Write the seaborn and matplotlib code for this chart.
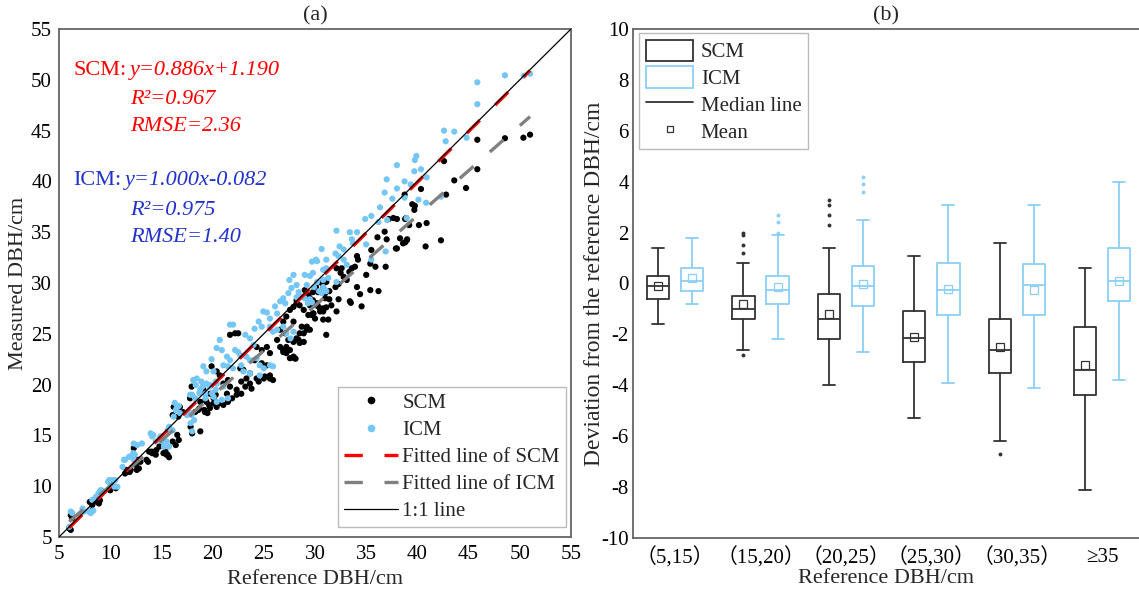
import numpy as np
import pandas as pd
import matplotlib
matplotlib.use("Agg")
import matplotlib.pyplot as plt
from matplotlib.patches import Patch
from matplotlib.lines import Line2D
import seaborn as sns

# ---------------- data: panel (a) ----------------
scm_ref = [45.85, 48.55, 50.35, 51.0, 42.6, 45.85, 43.6, 44.75, 40.35, 42.8, 38.75, 39.5, 39.75, 38.8, 39.2, 40.15, 40.9, 42.3, 40.8,
           38.0, 38.8, 38.95, 39.7, 37.2, 37.65, 38.0, 38.9, 36.8, 36.1, 37.0, 38.3, 39.0, 38.6, 37.9, 35.5, 36.9, 35.9, 35.4, 35.0,
           34.1, 34.2, 33.6, 33.9, 33.35, 32.1, 32.5, 32.6, 32.8, 33.1, 34.1, 34.4, 33.4, 35.4, 36.2, 34.55, 32.3, 32.0, 31.1, 30.8,
           31.4, 30.1, 29.8, 31.0, 31.4, 32.3, 31.6, 32.1, 31.1, 30.8, 29.5, 29.9, 30.3, 28.9, 29.35, 29.85, 27.9, 28.2,
           33.5, 31.3, 29.8, 30.5, 30.8, 29.2, 29.5, 28.5, 28.2, 27.9, 28.5, 27.2, 27.55, 26.9, 27.9, 28.1,
           30.65, 30.3, 31.0, 29.0, 29.35, 29.8, 30.2, 29.5, 30.5, 28.2, 28.5, 29.7, 30.0, 30.8, 31.1, 27.55, 27.2, 26.9, 27.9,
           28.7, 28.9, 29.2, 28.4, 28.9, 26.6, 27.1, 27.4, 26.3, 26.6, 26.9, 27.2, 27.9, 27.55, 28.0, 21.7, 22.2, 22.5,
           24.3, 24.8, 25.3, 25.6, 24.1, 24.8, 25.3, 25.6, 25.6, 25.9, 25.0, 22.7, 23.0, 23.65, 23.3, 24.3, 24.5, 25.1, 22.8,
           23.65, 23.2, 23.8, 22.35, 19.9, 20.4, 20.7, 21.5, 21.05, 21.7, 21.4, 22.35, 22.8, 21.9, 21.5, 20.55, 21.05, 20.4,
           20.7, 19.1, 19.75, 20.1, 19.4, 18.8, 19.75, 19.25, 18.6, 18.3, 17.95, 17.8, 16.8, 17.1, 16.65,
           19.3, 19.65, 20.1, 20.3, 18.7, 19.2, 19.5, 16.2, 16.1, 17.85, 18.0, 18.8, 16.55, 16.7, 16.1, 16.4, 14.8, 15.4,
           15.6, 15.75, 13.8, 14.1, 14.45, 12.3, 12.5, 12.8, 12.95, 12.0, 11.9, 12.6, 10.55, 8.6, 8.9, 8.25, 8.0, 6.15,
           6.3, 6.0, 6.15, 8.2, 9.0, 10.0, 11.45, 11.6, 12.75, 13.55, 13.7, 14.05, 14.5, 15.2, 15.5]
scm_meas = [44.1, 44.25, 44.3, 44.6, 42.0, 41.2, 40.1, 39.35, 39.25, 38.7, 38.7, 37.75, 37.6, 36.3, 35.7, 35.7, 35.9, 34.2, 33.6,
            33.4, 34.0, 34.2, 37.2, 36.3, 36.4, 36.3, 36.4, 35.05, 34.5, 34.3, 34.4, 34.3, 33.9, 33.4, 33.25, 31.6, 31.6, 31.9, 30.8,
            32.65, 32.3, 31.45, 31.6, 31.1, 31.45, 31.0, 31.45, 30.6, 30.3, 29.6, 28.9, 28.2, 29.3, 29.2, 27.7, 29.9, 29.6, 30.1, 29.6,
            29.2, 29.6, 29.1, 28.5, 28.4, 28.4, 27.8, 27.2, 27.6, 27.2, 28.5, 28.1, 27.7, 27.35, 26.85, 27.0, 27.65, 28.0,
            28.05, 26.4, 27.0, 27.2, 27.5, 25.7, 25.4, 25.05, 24.55, 24.2, 24.1, 23.7, 23.4, 23.2, 22.65, 22.55,
            30.0, 29.1, 29.0, 29.3, 28.8, 28.3, 28.0, 27.8, 27.5, 28.3, 27.8, 26.85, 26.5, 26.4, 24.9, 27.35, 26.7, 26.2, 26.2,
            25.7, 25.05, 25.4, 24.4, 24.2, 25.4, 25.05, 24.4, 24.4, 23.7, 23.4, 23.1, 22.75, 22.6, 22.6, 24.9, 25.05, 25.05,
            23.7, 23.4, 23.7, 23.1, 22.4, 22.1, 21.9, 20.9, 20.6, 20.45, 20.6, 21.6, 21.45, 21.1, 20.6, 20.6, 20.3, 20.8, 20.3,
            20.1, 19.8, 19.6, 19.5, 21.8, 21.3, 20.9, 20.45, 20.1, 19.8, 19.1, 19.0, 19.1, 18.65, 18.3, 18.15, 18.0, 17.8,
            18.2, 19.5, 19.1, 18.65, 18.3, 18.3, 17.7, 17.3, 17.5, 17.3, 19.8, 18.65, 17.8, 17.3, 16.85,
            18.5, 18.0, 18.15, 19.0, 17.65, 17.5, 17.2, 17.8, 17.0, 15.85, 15.2, 15.4, 15.05, 14.55, 14.4, 14.05, 13.9, 13.4,
            13.1, 12.85, 13.4, 13.25, 13.1, 13.75, 12.1, 11.75, 12.4, 11.6, 11.4, 11.6, 9.8, 8.5, 8.3, 8.15, 8.45, 7.15,
            6.85, 5.85, 5.7, 7.55, 8.6, 9.6, 11.25, 11.6, 12.6, 12.6, 12.4, 13.4, 13.55, 13.25, 13.1]

icm_ref = [48.55, 50.4, 51.0, 45.85, 45.85, 42.6, 43.6, 42.76, 44.8, 39.9, 39.75, 39.7, 40.35, 40.9, 38.75, 39.35, 38.75, 40.1,
           40.85, 42.3, 38.95, 38.0, 37.0, 38.0, 36.8, 36.35, 37.55, 35.5, 34.9, 36.2, 37.05, 32.1, 33.4, 34.1, 33.6, 33.7, 35.0,
           30.65, 32.4, 32.8, 36.9, 35.5, 32.0, 32.3, 29.7, 30.1, 32.8, 33.1, 30.8, 31.1, 29.0, 29.5, 27.9, 27.7, 28.2, 30.8,
           31.3, 29.9, 30.4, 32.1, 30.65, 31.1, 29.0, 29.5, 28.2, 29.3, 29.7,
           30.2, 31.1, 27.5, 29.8, 29.2, 30.2, 30.8, 28.4, 28.7, 26.9, 27.1, 26.6, 27.4, 26.1, 26.3, 24.95, 25.3, 25.6, 24.5,
           24.8, 24.1, 21.7, 22.0, 25.6, 25.9, 26.3, 26.9, 27.2, 27.6, 27.9, 23.2, 23.65, 24.0, 20.7, 20.4, 20.9, 22.2, 22.5,
           22.7, 23.3, 23.65, 24.3, 24.6, 25.0, 25.6, 25.9, 19.9, 21.4, 21.7, 21.05, 21.5, 22.0, 22.8, 19.1, 19.4, 20.1, 23.0,
           23.65, 24.6, 18.45, 18.1, 18.9, 19.4, 19.7, 20.4, 21.05, 18.8, 19.3, 20.1, 20.4, 20.9, 21.5, 17.8, 18.3, 16.3, 16.5,
           16.8, 17.5, 17.95, 16.2,
           18.35, 19.0, 19.8, 20.3, 18.0, 18.7, 19.3, 19.95, 20.3, 16.7, 16.4, 17.85, 18.2, 17.85, 18.0, 15.75, 16.1, 15.6,
           13.95, 14.1, 14.8, 15.1, 14.45, 15.25, 15.75, 12.3, 12.65, 13.1, 11.85, 12.3, 11.35, 11.2, 9.9, 10.2, 10.4, 10.7,
           10.05, 9.05, 8.6, 8.25, 7.3, 7.45, 7.95, 8.1, 6.3, 6.15, 6.0,
           8.35, 9.0, 9.15, 8.85, 9.8, 10.5, 10.3, 11.45, 11.9, 12.25, 12.4, 14.2, 14.9, 15.5]
icm_meas = [50.44, 50.4, 50.6, 49.75, 47.6, 45.0, 44.9, 43.95, 44.3, 42.5, 42.1, 41.0, 41.2, 40.4, 40.0, 39.7, 38.4, 38.2,
            37.9, 38.5, 36.4, 41.6, 40.2, 39.3, 38.9, 37.45, 38.3, 36.6, 36.3, 36.0, 36.2, 35.15, 35.0, 35.0, 34.3, 33.9, 33.8,
            33.35, 33.6, 33.3, 33.1, 32.3, 32.9, 32.65, 32.1, 32.3, 32.3, 31.8, 31.3, 31.45, 30.8, 30.7, 30.8, 29.5, 29.8, 30.3,
            30.5, 29.6, 29.2, 30.1, 29.0, 29.2, 28.5, 28.4, 28.6, 28.0, 28.1,
            32.15, 32.3, 30.3, 31.0, 29.8, 30.1, 29.6, 29.1, 28.65, 28.5, 28.0, 28.2, 29.0, 27.7, 27.0, 27.2, 27.1, 26.5, 26.2,
            25.7, 25.5, 25.9, 25.9, 25.7, 25.2, 25.4, 25.7, 25.05, 24.55, 25.2, 24.9, 24.55, 23.9, 24.4, 23.6, 23.4, 23.4, 23.2,
            22.9, 22.75, 22.4, 22.6, 21.9, 21.6, 21.9, 21.8, 22.5, 22.75, 22.4, 21.9, 21.8, 21.6, 21.9, 21.8, 21.3, 21.3, 21.3,
            21.1, 20.9, 20.6, 20.45, 20.3, 20.1, 19.8, 20.1, 19.8, 19.5, 19.1, 18.8, 18.3, 18.5, 18.65, 19.0, 18.65, 18.2, 17.7,
            17.2, 17.0, 17.0, 16.85,
            19.95, 19.8, 19.95, 20.3, 19.0, 19.15, 18.65, 19.15, 19.5, 17.9, 17.5, 17.2, 16.5, 16.2, 15.4, 15.85, 15.5, 15.5,
            15.2, 14.9, 14.7, 14.4, 14.4, 13.9, 13.9, 14.2, 14.05, 14.2, 12.9, 12.6, 12.6, 11.9, 10.6, 10.6, 9.95, 9.95,
            10.1, 9.6, 8.95, 8.65, 7.8, 7.5, 7.5, 7.35, 7.35, 7.5, 6.0,
            7.6, 9.45, 9.6, 9.3, 10.45, 10.6, 10.1, 12.6, 12.9, 13.25, 13.1, 15.05, 14.9, 14.4]

fit_labels = ["Fitted line of SCM", "Fitted line of ICM"]
fit_slopes = [1.000, 0.886]
fit_intercepts = [-0.082, 1.190]
fit_x_range = [6.0, 51.0]

# ---------------- data: panel (b) ----------------
classes = ["（5,15）", "（15,20）", "（20,25）", "（25,30）", "（30,35）", "≥35"]
scm_whislo = [-1.6, -2.6, -4.0, -5.3, -6.2, -8.1]
scm_q1 = [-0.6, -1.4, -2.2, -3.1, -3.5, -4.4]
scm_med = [-0.1, -1.0, -1.4, -2.15, -2.6, -3.4]
scm_q3 = [0.3, -0.5, -0.4, -1.1, -1.4, -1.7]
scm_whishi = [1.4, 0.8, 1.4, 1.1, 1.6, 0.6]
scm_mean = [-0.1, -0.8, -1.2, -2.1, -2.5, -3.2]
scm_fliers = [[], [2.0, 1.9, 1.5, 1.2, -2.8], [3.3, 3.1, 2.7, 2.3], [], [-6.7], []]

icm_whislo = [-0.8, -2.2, -2.7, -3.9, -4.1, -3.8]
icm_q1 = [-0.3, -0.8, -0.9, -1.25, -1.25, -0.7]
icm_med = [0.1, -0.25, -0.1, -0.25, -0.05, 0.1]
icm_q3 = [0.6, 0.3, 0.7, 0.8, 0.75, 1.4]
icm_whishi = [1.8, 1.9, 2.5, 3.1, 3.1, 4.0]
icm_mean = [0.2, -0.15, 0.0, -0.2, -0.25, 0.1]
icm_fliers = [[], [2.7, 2.4, 2.0], [4.2, 3.9, 3.6], [], [], []]

# ---------------- style ----------------
sns.set_theme(style="white")
plt.rcParams["font.family"] = ["Liberation Serif", "Noto Sans CJK SC", "DejaVu Serif"]
plt.rcParams["font.size"] = 15
plt.rcParams["axes.unicode_minus"] = False

BLUE_PT = "#74C6F4"
BLUE_BOX = "#8ACFF7"
DARK = "#333333"
SPINE = "#666666"
TICK_FS = 15
LAB_FS = 16

fig = plt.figure(figsize=(11.39, 5.89), dpi=100)
ax1 = fig.add_axes([59 / 1139, 52 / 589, 512 / 1139, 508 / 589])
ax2 = fig.add_axes([633 / 1139, 51 / 589, 506 / 1139, 509 / 589])

# ---------------- panel (a) ----------------
df = pd.concat([
    pd.DataFrame({"ref": scm_ref, "meas": scm_meas, "Method": "SCM"}),
    pd.DataFrame({"ref": icm_ref, "meas": icm_meas, "Method": "ICM"}),
])
sns.scatterplot(data=df, x="ref", y="meas", hue="Method",
                palette={"SCM": "black", "ICM": BLUE_PT}, s=20, linewidth=0,
                legend=False, ax=ax1, zorder=2)

fit_colors = ["#FF0000", "#808080"]
xs = np.array(fit_x_range)
for lab, a, b, c in zip(fit_labels, fit_slopes, fit_intercepts, fit_colors):
    ax1.plot(xs, a * xs + b, color=c, lw=2.4, linestyle=(0, (5.5, 6.5)), zorder=3)
ax1.plot([5, 55], [5, 55], color="black", lw=0.9, zorder=4)

ax1.set_xlim(5, 55)
ax1.set_ylim(5, 55)
ax1.set_xticks(np.arange(5, 56, 5))
ax1.set_yticks(np.arange(5, 56, 5))
ax1.tick_params(direction="in", length=3, width=1, colors=SPINE, labelcolor="black",
                labelsize=TICK_FS)
ax1.tick_params(axis="x", pad=6)
ax1.tick_params(axis="y", pad=5)
for s in ax1.spines.values():
    s.set_color(SPINE)
    s.set_linewidth(1.3)
ax1.set_xlabel("Reference DBH/cm", fontsize=LAB_FS, labelpad=4)
ax1.set_ylabel("Measured DBH/cm", fontsize=LAB_FS, labelpad=2)
ax1.set_title("(a)", fontsize=16, pad=6)

red = "#FF0000"
blue_t = "#2233CC"
AFS = 16
ax1.text(6.37, 50.96, "SCM:", color=red, fontsize=AFS, va="center", ha="left")
ax1.text(11.9, 50.96, "y=0.886x+1.190", color=red, fontsize=AFS, va="center", ha="left", style="italic")
ax1.text(11.9, 48.1, "R²=0.967", color=red, fontsize=AFS, va="center", ha="left", style="italic")
ax1.text(11.9, 45.45, "RMSE=2.36", color=red, fontsize=AFS, va="center", ha="left", style="italic")
ax1.text(6.37, 40.04, "ICM:", color=blue_t, fontsize=AFS, va="center", ha="left")
ax1.text(11.4, 40.04, "y=1.000x-0.082", color=blue_t, fontsize=AFS, va="center", ha="left", style="italic")
ax1.text(11.9, 37.1, "R²=0.975", color=blue_t, fontsize=AFS, va="center", ha="left", style="italic")
ax1.text(11.9, 34.5, "RMSE=1.40", color=blue_t, fontsize=AFS, va="center", ha="left", style="italic")

h1 = [
    Line2D([], [], ls="none", marker="o", ms=4.5, mfc="black", mec="black"),
    Line2D([], [], ls="none", marker="o", ms=4.5, mfc=BLUE_PT, mec=BLUE_PT),
    Line2D([], [], color="#FF0000", lw=2.4, linestyle=(0, (5.5, 6.5))),
    Line2D([], [], color="#808080", lw=2.4, linestyle=(0, (5.5, 6.5))),
    Line2D([], [], color="black", lw=0.9),
]
l1 = ax1.legend(h1, ["SCM", "ICM"] + fit_labels + ["1:1 line"], loc="lower right",
                bbox_to_anchor=(0.99, 0.019), borderaxespad=0, fontsize=15,
                handlelength=2.6, handletextpad=0.2, labelspacing=0.36,
                borderpad=0.3, frameon=True, fancybox=False, framealpha=1)
l1.get_frame().set_edgecolor("#BBBBBB")
l1.get_frame().set_linewidth(1.0)

# ---------------- panel (b) ----------------
def make_stats(lo, q1, med, q3, hi, mean, fl):
    return [dict(whislo=lo[i], q1=q1[i], med=med[i], q3=q3[i], whishi=hi[i],
                 mean=mean[i], fliers=fl[i]) for i in range(len(lo))]

pos = np.arange(1, len(classes) + 1)
for stats, offs, col in [
    (make_stats(scm_whislo, scm_q1, scm_med, scm_q3, scm_whishi, scm_mean, scm_fliers), -0.2, DARK),
    (make_stats(icm_whislo, icm_q1, icm_med, icm_q3, icm_whishi, icm_mean, icm_fliers), 0.2, BLUE_BOX),
]:
    ax2.bxp(stats, positions=pos + offs, widths=0.26, capwidths=0.14, showmeans=True,
            boxprops=dict(color=col, lw=1.3),
            whiskerprops=dict(color=col, lw=1.3),
            capprops=dict(color=col, lw=1.3),
            medianprops=dict(color=col, lw=1.3),
            meanprops=dict(marker="s", markerfacecolor="none", markeredgecolor=col,
                           markersize=5.5, markeredgewidth=0.9),
            flierprops=dict(marker="o", markersize=1.8, markerfacecolor=col,
                            markeredgecolor=col, linestyle="none"),
            manage_ticks=False)

ax2.set_xlim(0.508, 6.43)
ax2.set_ylim(-10, 10)
ax2.set_xticks(pos)
ax2.set_xticklabels(classes)
ax2.set_yticks(np.arange(-10, 11, 2))
ax2.tick_params(direction="in", length=4, width=1, colors=SPINE, labelcolor="black",
                labelsize=TICK_FS)
ax2.tick_params(axis="x", pad=7)
ax2.tick_params(axis="y", pad=3)
for k, s in ax2.spines.items():
    s.set_color(SPINE)
    s.set_linewidth(1.3)
ax2.spines["right"].set_visible(False)
ax2.set_xlabel("Reference DBH/cm", fontsize=LAB_FS, labelpad=0)
ax2.set_ylabel("Deviation from the reference DBH/cm", fontsize=17, labelpad=-3)
ax2.set_title("(b)", fontsize=16, pad=6, x=0.5)

h2 = [
    Patch(facecolor="white", edgecolor=DARK, lw=1.3),
    Patch(facecolor="white", edgecolor=BLUE_BOX, lw=1.3),
    Line2D([], [], color=DARK, lw=1.3),
    Line2D([], [], ls="none", marker="s", ms=5, mfc="none", mec=DARK, mew=0.9),
]
l2 = ax2.legend(h2, ["SCM", "ICM", "Median line", "Mean"], loc="upper left",
                bbox_to_anchor=(0.0125, 0.9915), borderaxespad=0, fontsize=15,
                handlelength=2.3, handleheight=1.2, handletextpad=0.35,
                labelspacing=0.2, borderpad=0.3, frameon=True, fancybox=False,
                framealpha=1)
l2.get_frame().set_edgecolor("#BBBBBB")
l2.get_frame().set_linewidth(1.0)

fig.savefig("out.png", dpi=100)
